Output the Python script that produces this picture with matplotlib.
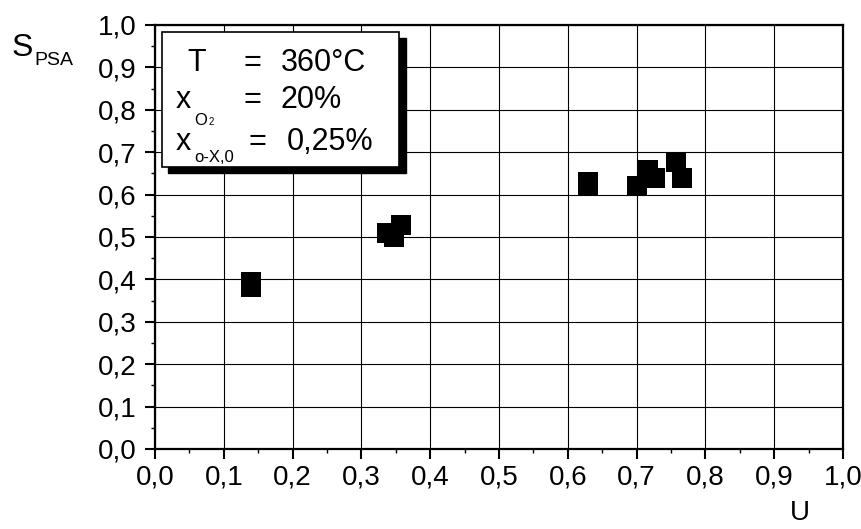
import matplotlib.pyplot as plt
from matplotlib.patches import Rectangle
from matplotlib.ticker import MultipleLocator, FuncFormatter

plt.rcParams['font.family'] = ['Liberation Sans', 'DejaVu Sans']

# conversion U vs. selectivity S_PSA
U = [0.14, 0.14, 0.337, 0.347, 0.357, 0.63, 0.63, 0.70, 0.717, 0.727, 0.757, 0.766]
S_PSA = [0.394, 0.382, 0.51, 0.50, 0.528, 0.62, 0.63, 0.62, 0.658, 0.64, 0.677, 0.64]

W, H = 862, 529
fig = plt.figure(figsize=(W / 100, H / 100), dpi=100)
ax = fig.add_axes([155 / W, 1 - 449 / H, 688 / W, 424 / H])

ax.plot(U, S_PSA, 's', color='black', markersize=14.4, markeredgewidth=0, zorder=5)

ax.set_xlim(0, 1)
ax.set_ylim(0, 1)
ax.xaxis.set_major_locator(MultipleLocator(0.1))
ax.yaxis.set_major_locator(MultipleLocator(0.1))
ax.xaxis.set_minor_locator(MultipleLocator(0.05))
ax.yaxis.set_minor_locator(MultipleLocator(0.05))
comma = FuncFormatter(lambda v, p: f"{v:.1f}".replace('.', ','))
ax.xaxis.set_major_formatter(comma)
ax.yaxis.set_major_formatter(comma)
ax.tick_params(which='major', direction='out', length=7, width=1.5, labelsize=20)
ax.tick_params(axis='x', which='major', pad=4)
ax.tick_params(axis='y', which='major', pad=6)
ax.tick_params(which='minor', direction='out', length=3, width=1)
ax.grid(True, which='major', color='black', linewidth=0.8)
for s in ax.spines.values():
    s.set_linewidth(1.6)


def px(x, y):
    return x / W, 1 - y / H


def put(x, y, s, size, **kw):
    fig.text(*px(x, y), s, fontsize=size, va='baseline', zorder=12, **kw)


# axis titles
put(12, 56, 'S', 23)
put(34, 65, 'PSA', 14)
put(800, 520, 'U', 20, ha='center')

# parameter box with drop shadow
fig.patches.append(Rectangle(px(168, 173), 238 / W, 135 / H, transform=fig.transFigure,
                             facecolor='black', edgecolor='black', zorder=10))
fig.patches.append(Rectangle(px(162, 167), 237 / W, 135 / H, transform=fig.transFigure,
                             facecolor='white', edgecolor='black', linewidth=1.2, zorder=11))

fs = 22
put(187, 71, 'T', fs)
put(244, 71, '=', fs)
put(281, 71, '360°C', fs)

put(176, 108, 'x', fs)
put(194, 125, 'O', 12)
put(209, 125, '2', 7)
put(244, 108, '=', fs)
put(281, 108, '20%', fs)

put(176, 150, 'x', fs)
put(194, 162, 'o-X,0', 12)
put(249, 150, '=', fs)
put(287, 150, '0,25%', fs)

fig.savefig('out.png', dpi=100)
